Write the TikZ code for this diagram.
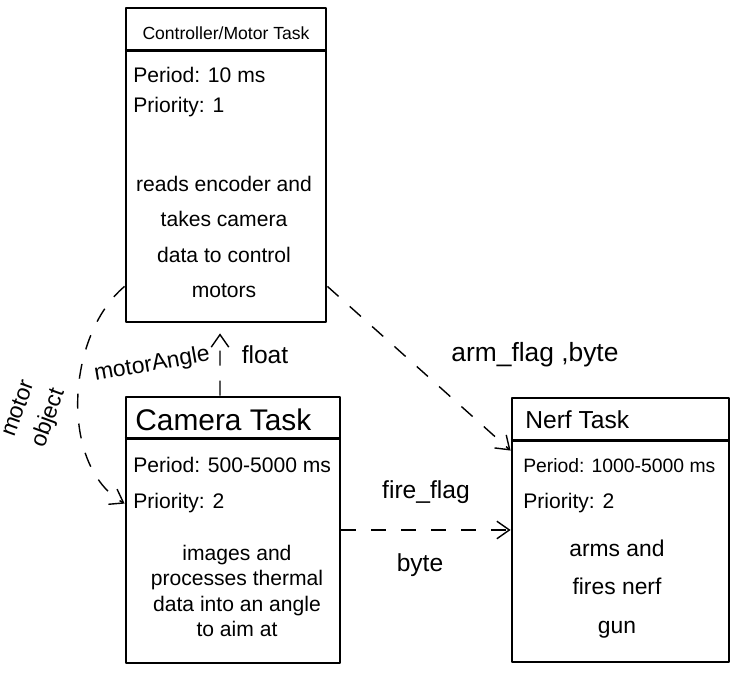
\documentclass[tikz,border=0pt]{standalone}
\usepackage{fontspec}
\setmainfont{Liberation Sans}
\usetikzlibrary{arrows.meta}

\begin{document}
\begin{tikzpicture}[line join=round]
  \useasboundingbox (0,0) rectangle (14.8,13.46);

  \begin{scope}[every node/.style={draw,line width=1.6pt,rectangle,inner sep=0pt}]
    \node[minimum width=4cm,minimum height=6.28cm]     (ctrl) at (4.52,10.16) {};
    \node[minimum width=4.28cm,minimum height=5.32cm]  (cam)  at (4.66,2.86)  {};
    \node[minimum width=4.34cm,minimum height=5.28cm]  (nerf) at (12.41,2.86) {};
  \end{scope}

  \begin{scope}[line width=1.6pt]
    \draw ([yshift=-0.88cm]ctrl.north west) -- ([yshift=-0.88cm]ctrl.north east);
    \draw ([yshift=-0.86cm]cam.north west)  -- ([yshift=-0.86cm]cam.north east);
    \draw ([yshift=-0.88cm]nerf.north west) -- ([yshift=-0.88cm]nerf.north east);
  \end{scope}

  \begin{scope}[every node/.style={font=\fontsize{12}{18}\selectfont,inner sep=0pt}]
    \node[font=\fontsize{10}{12}\selectfont] (ctrlname) at (4.52,12.8) {Controller/Motor Task};
    \node[anchor=west] (ctrlperiod) at (2.66,11.96) {Period: 10 ms};
    \node[anchor=west] (ctrlprio)   at (2.66,11.32) {Priority: 1};
    \node[align=center,font=\fontsize{12}{20}\selectfont] (ctrldesc) at (4.48,8.72)
      {reads encoder and\\takes camera\\data to control\\motors};

    \node[anchor=west,font=\fontsize{17}{20}\selectfont] (camname) at (2.7,5.06) {Camera Task};
    \node[anchor=west] (camperiod) at (2.66,4.16) {Period: 500-5000 ms};
    \node[anchor=west] (camprio)   at (2.66,3.4)  {Priority: 2};
    \node[align=center,font=\fontsize{12}{14.5}\selectfont] (camdesc) at (4.74,1.64)
      {images and\\processes thermal\\data into an angle\\to aim at};

    \node[anchor=west,font=\fontsize{14}{16}\selectfont] (nerfname) at (10.5,5.06) {Nerf Task};
    \node[anchor=west,font=\fontsize{11}{14}\selectfont] (nerfperiod) at (10.46,4.14) {Period: 1000-5000 ms};
    \node[anchor=west] (nerfprio)   at (10.46,3.4)  {Priority: 2};
    \node[align=center,font=\fontsize{13}{22}\selectfont] (nerfdesc) at (12.34,1.68)
      {arms and\\fires nerf\\gun};
  \end{scope}

  \begin{scope}[every edge/.style={draw,line width=0.8pt,dash pattern=on 3mm off 3mm,
      -{Straight Barb[length=2.5mm,width=3.5mm]}}]
    \path ([yshift=0.74cm]ctrl.south west) edge[out=220,in=150,looseness=0.9] ([yshift=-2.16cm]cam.north west);
    \path ([xshift=-0.26cm]cam.north) edge ([xshift=-0.12cm,yshift=-0.2cm]ctrl.south);
    \path ([yshift=0.74cm]ctrl.south east) edge ([yshift=-1.08cm]nerf.north west);
    \path (cam.east) edge (nerf.west);
  \end{scope}

  \begin{scope}[every node/.style={font=\fontsize{13}{15}\selectfont,inner sep=0pt}]
    \node[align=left,rotate=70,font=\fontsize{13}{18}\selectfont] (motorobj) at (0.7,5.2) {motor\\object};
    \node[rotate=10] (motorangle) at (3.04,6.16) {motorAngle};
    \node[font=\fontsize{14}{16}\selectfont] (floatlbl) at (5.3,6.36) {float};
    \node[font=\fontsize{15}{16}\selectfont] (armflag) at (10.7,6.36) {arm\_flag ,byte};
    \node[font=\fontsize{14}{16}\selectfont] (fireflag) at (8.52,3.62) {fire\_flag};
    \node[font=\fontsize{14}{16}\selectfont] (bytelbl) at (8.4,2.16) {byte};
  \end{scope}

\end{tikzpicture}
\end{document}
